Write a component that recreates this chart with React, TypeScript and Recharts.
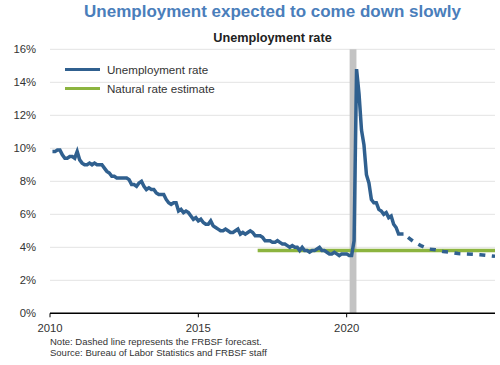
import { LineChart, Line, XAxis, YAxis, CartesianGrid, ReferenceArea } from 'recharts';

// monthly unemployment rate, %
const rate2010 = [9.8, 9.8, 9.9, 9.9, 9.6, 9.4, 9.4, 9.5, 9.5, 9.4, 9.8, 9.3];
const rate2011 = [9.1, 9.0, 9.0, 9.1, 9.0, 9.1, 9.0, 9.0, 9.0, 8.8, 8.6, 8.5];
const rate2012 = [8.3, 8.3, 8.2, 8.2, 8.2, 8.2, 8.2, 8.1, 7.8, 7.8, 7.7, 7.9];
const rate2013 = [8.0, 7.7, 7.5, 7.6, 7.5, 7.5, 7.3, 7.2, 7.2, 7.2, 6.9, 6.7];
const rate2014 = [6.6, 6.7, 6.7, 6.2, 6.3, 6.1, 6.2, 6.1, 5.9, 5.7, 5.8, 5.6];
const rate2015 = [5.7, 5.5, 5.4, 5.4, 5.6, 5.3, 5.2, 5.1, 5.0, 5.0, 5.1, 5.0];
const rate2016 = [4.9, 4.9, 5.0, 5.1, 4.8, 4.9, 4.8, 4.9, 5.0, 4.9, 4.7, 4.7];
const rate2017 = [4.7, 4.6, 4.4, 4.4, 4.4, 4.3, 4.3, 4.4, 4.3, 4.2, 4.2, 4.1];
const rate2018 = [4.0, 4.1, 4.0, 4.0, 3.8, 4.0, 3.8, 3.8, 3.7, 3.8, 3.8, 3.9];
const rate2019 = [4.0, 3.8, 3.8, 3.7, 3.6, 3.6, 3.7, 3.6, 3.5, 3.6, 3.6, 3.6];
const rate2020 = [3.5, 3.5, 4.4, 14.8, 13.3, 11.1, 10.2, 8.4, 7.9, 6.9, 6.7, 6.7];
const rate2021 = [6.3, 6.2, 6.0, 6.1, 5.8, 5.9, 5.4, 5.2, 4.8, 4.8, 4.8];

// FRBSF forecast (dashed)
const forecastDates = [2021.917, 2022, 2022.25, 2022.5, 2022.75, 2023, 2023.25, 2023.5, 2023.75, 2024, 2024.25, 2024.5, 2024.75, 2025];
const forecastRates = [4.8, 4.7, 4.35, 4.1, 3.9, 3.85, 3.75, 3.7, 3.62, 3.6, 3.58, 3.55, 3.5, 3.45];

// natural rate estimate
const naturalDates = [2017, 2025];
const naturalRates = [3.8, 3.8];

// recession shading
const recession = [2020.1, 2020.33];

const xTicks = [2010, 2015, 2020];
const yTicks = [0, 2, 4, 6, 8, 10, 12, 14, 16];

const BLUE = '#30608f';
const GREEN = '#8cb43f';
const FONT = '"Liberation Sans", Arial, sans-serif';

const actual = [rate2010, rate2011, rate2012, rate2013, rate2014, rate2015, rate2016, rate2017, rate2018, rate2019, rate2020, rate2021]
    .flatMap((arr, i) => arr.map((v, m) => ({ x: 2010 + i + (m + 1) / 12, y: v })));
const forecast = forecastDates.map((x, i) => ({ x, y: forecastRates[i] }));
const natural = naturalDates.map((x, i) => ({ x, y: naturalRates[i] }));

const legendItems = [
    { label: 'Unemployment rate', color: BLUE },
    { label: 'Natural rate estimate', color: GREEN }
];

const LegendBox = () => (
    <div style={{ position: 'absolute', left: 65, top: 59.8 }}>
        {legendItems.map((it) => (
            <div key={it.label} style={{ display: 'flex', alignItems: 'center', height: 19 }}>
                <span style={{ display: 'inline-block', width: 35, height: 3.5, background: it.color, marginRight: 7 }} />
                <span style={{ fontSize: 11.6, color: '#333', fontFamily: FONT }}>{it.label}</span>
            </div>
        ))}
    </div>
);

export default function App() {
    return (
        <div style={{ position: 'absolute', left: 0, top: 0, width: 500, height: 365, background: '#fff', fontFamily: FONT }}>
            <div style={{ position: 'absolute', left: 50, width: 445, top: 2.9, fontSize: 17, lineHeight: '17px', fontWeight: 'bold', color: '#4a7ebb', textAlign: 'center', whiteSpace: 'nowrap' }}>
                Unemployment expected to come down slowly
            </div>
            <div style={{ position: 'absolute', left: 50, width: 445, top: 32.2, fontSize: 12.7, lineHeight: '12.7px', fontWeight: 'bold', color: '#222', textAlign: 'center' }}>
                Unemployment rate
            </div>
            <LineChart width={500} height={365} margin={{ top: 49.3, right: 5, left: 0, bottom: 31.7 }}>
                <CartesianGrid horizontal vertical={false} stroke="#e3e3e3" />
                <ReferenceArea x1={recession[0]} x2={recession[1]} y1={0} y2={16} fill="#c3c3c3" fillOpacity={1} stroke="none" />
                <XAxis
                    dataKey="x"
                    type="number"
                    domain={[2010, 2025]}
                    ticks={xTicks}
                    allowDataOverflow
                    height={20}
                    stroke="#000"
                    axisLine={{ stroke: '#000', strokeWidth: 1.5 }}
                    tickLine={{ stroke: '#000' }}
                    tickSize={4}
                    tickMargin={7}
                    tick={{ fill: '#333', fontSize: 11.3, fontFamily: FONT }}
                />
                <YAxis
                    type="number"
                    domain={[0, 16]}
                    ticks={yTicks}
                    width={50}
                    axisLine={false}
                    tickLine={false}
                    tickSize={6}
                    tickMargin={8}
                    tickFormatter={(v) => `${v}%`}
                    tick={{ fill: '#333', fontSize: 11.3, fontFamily: FONT }}
                />
                <Line data={natural} dataKey="y" type="linear" stroke={GREEN} strokeWidth={3.5} dot={false} isAnimationActive={false} legendType="none" />
                <Line data={actual} dataKey="y" type="linear" stroke={BLUE} strokeWidth={3.5} dot={false} isAnimationActive={false} legendType="none" />
                <Line data={forecast} dataKey="y" type="linear" stroke={BLUE} strokeWidth={3.5} strokeDasharray="6 6.5" strokeDashoffset={7} dot={false} isAnimationActive={false} legendType="none" />
            </LineChart>
            <LegendBox />
            <div style={{ position: 'absolute', left: 50, top: 337, fontSize: 9.5, lineHeight: '10.6px', color: '#333' }}>
                Note: Dashed line represents the FRBSF forecast.
                <br />
                Source: Bureau of Labor Statistics and FRBSF staff
            </div>
        </div>
    );
}
